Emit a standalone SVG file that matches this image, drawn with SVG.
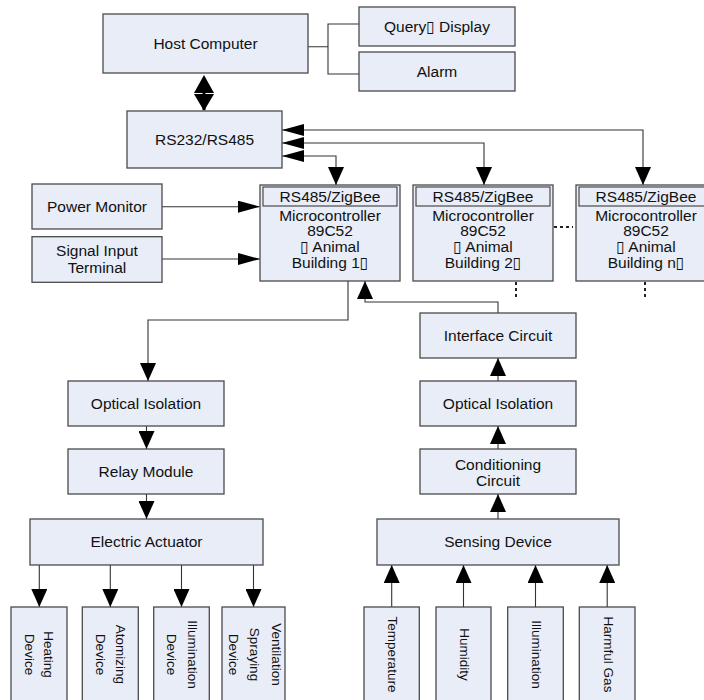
<svg xmlns="http://www.w3.org/2000/svg" width="704" height="700" viewBox="0 0 704 700">
<defs>
<style>
.box{fill:#E8EDF7;stroke:#4a4a4a;stroke-width:1.3}
.inner{fill:#E8EDF7;stroke:#4a4a4a;stroke-width:1.2}
.t{font-family:"Liberation Sans",Arial,"DejaVu Sans",sans-serif;font-size:15.5px;fill:#111;text-anchor:middle}
.tb{font-family:"Liberation Sans",Arial,"DejaVu Sans",sans-serif;font-size:15.5px;fill:#111;text-anchor:middle}
.tr{font-family:"Liberation Sans",Arial,"DejaVu Sans",sans-serif;font-size:13.5px;fill:#111;text-anchor:middle}
.ln{fill:none;stroke:#333;stroke-width:1.1}
.dot{fill:none;stroke:#222;stroke-width:2;stroke-dasharray:3 3}
</style>
<marker id="ah" markerUnits="userSpaceOnUse" markerWidth="22" markerHeight="12" refX="22" refY="6" orient="auto-start-reverse"><path d="M0,0 L22,6 L0,12 z" fill="#000"/></marker>
<marker id="av" markerUnits="userSpaceOnUse" markerWidth="18" markerHeight="16" refX="18" refY="8" orient="auto-start-reverse"><path d="M0,0 L18,8 L0,16 z" fill="#000"/></marker>
</defs>
<rect width="704" height="700" fill="#fff"/>

<g id="connectors">
<path class="ln" d="M308,46.7 H328 M359,24 H328 V74 H359"/>
<line x1="204" y1="80" x2="204" y2="110" stroke="#000" stroke-width="3"/>
<polygon points="204,75 214,93 194,93" fill="#000"/>
<polygon points="204,111 214,94 194,94" fill="#000"/>
<path class="ln" d="M282,130 H643 V185" marker-start="url(#ah)" marker-end="url(#av)"/>
<path class="ln" d="M282,143 H484 V185" marker-start="url(#ah)" marker-end="url(#av)"/>
<path class="ln" d="M282,156 H336 V185" marker-start="url(#ah)" marker-end="url(#av)"/>
<path class="ln" d="M162,206.7 H260" marker-end="url(#ah)"/>
<path class="ln" d="M162,259 H260" marker-end="url(#ah)"/>
<path class="dot" d="M554,227 H573"/>
<path class="dot" d="M516,282 V298"/>
<path class="dot" d="M645,282 V298"/>
<path class="ln" d="M348,281 V320 H148 V381" marker-end="url(#av)"/>
<path class="ln" d="M146.5,426 V449" marker-end="url(#av)"/>
<path class="ln" d="M146.5,494 V519" marker-end="url(#av)"/>
<path class="ln" d="M39.3,565 V607" marker-end="url(#av)"/>
<path class="ln" d="M110.3,565 V607" marker-end="url(#av)"/>
<path class="ln" d="M181.5,565 V607" marker-end="url(#av)"/>
<path class="ln" d="M253.5,565 V607" marker-end="url(#av)"/>
<path class="ln" d="M498,313 V302 H365 V281" marker-end="url(#av)"/>
<path class="ln" d="M498,381 V358" marker-end="url(#av)"/>
<path class="ln" d="M498,449 V426" marker-end="url(#av)"/>
<path class="ln" d="M498,519 V494" marker-end="url(#av)"/>
<path class="ln" d="M391.7,607 V565" marker-end="url(#av)"/>
<path class="ln" d="M463.5,607 V565" marker-end="url(#av)"/>
<path class="ln" d="M535.5,607 V565" marker-end="url(#av)"/>
<path class="ln" d="M607.2,607 V565" marker-end="url(#av)"/>
</g>

<g id="host"><rect class="box" x="103" y="14" width="205" height="59"/><text class="t" x="205.5" y="48.5">Host Computer</text></g>
<g id="query"><rect class="box" x="359" y="7" width="156" height="39"/><text class="t" x="437" y="31.5">Query▯ Display</text></g>
<g id="alarm"><rect class="box" x="359" y="52" width="156" height="39"/><text class="t" x="437" y="77">Alarm</text></g>
<g id="rs232"><rect class="box" x="127" y="111" width="155" height="57"/><text class="t" x="204.5" y="145">RS232/RS485</text></g>
<g id="power"><rect class="box" x="32" y="184" width="130" height="45"/><text class="t" x="97" y="212">Power Monitor</text></g>
<g id="signal"><rect class="box" x="32" y="236.7" width="130" height="45.6"/><text class="t" x="97" y="255.5">Signal Input</text><text class="t" x="97" y="272.5">Terminal</text></g>

<g id="building1"><rect class="box" x="260" y="185" width="140" height="96"/><rect class="inner" x="263" y="187" width="134" height="19"/>
<text class="tb" x="330" y="201.5">RS485/ZigBee</text><text class="tb" x="330" y="220.5">Microcontroller</text><text class="tb" x="330" y="236">89C52</text><text class="tb" x="330" y="252">▯ Animal</text><text class="tb" x="330" y="267.5">Building 1▯</text></g>
<g id="building2"><rect class="box" x="413" y="185" width="140" height="96"/><rect class="inner" x="416" y="187" width="134" height="19"/>
<text class="tb" x="483" y="201.5">RS485/ZigBee</text><text class="tb" x="483" y="220.5">Microcontroller</text><text class="tb" x="483" y="236">89C52</text><text class="tb" x="483" y="252">▯ Animal</text><text class="tb" x="483" y="267.5">Building 2▯</text></g>
<g id="buildingn"><rect class="box" x="576" y="185" width="140" height="96"/><rect class="inner" x="579" y="187" width="134" height="19"/>
<text class="tb" x="646" y="201.5">RS485/ZigBee</text><text class="tb" x="646" y="220.5">Microcontroller</text><text class="tb" x="646" y="236">89C52</text><text class="tb" x="646" y="252">▯ Animal</text><text class="tb" x="646" y="267.5">Building n▯</text></g>

<g id="optical-left"><rect class="box" x="68" y="381" width="156" height="45"/><text class="t" x="146" y="409">Optical Isolation</text></g>
<g id="relay"><rect class="box" x="68" y="449" width="156" height="45"/><text class="t" x="146" y="477">Relay Module</text></g>
<g id="actuator"><rect class="box" x="30" y="519" width="233" height="46"/><text class="t" x="146.5" y="547">Electric Actuator</text></g>

<g id="heating"><rect class="box" x="11" y="607" width="56" height="100"/><text class="tr" transform="translate(44,654.5) rotate(90)">Heating</text><text class="tr" transform="translate(24.5,654.5) rotate(90)">Device</text></g>
<g id="atomizing"><rect class="box" x="82.3" y="607" width="56" height="100"/><text class="tr" transform="translate(116,654.5) rotate(90)">Atomizing</text><text class="tr" transform="translate(95.5,654.5) rotate(90)">Device</text></g>
<g id="illum-device"><rect class="box" x="153.7" y="607" width="55.6" height="100"/><text class="tr" transform="translate(187.5,654.5) rotate(90)">Illumination</text><text class="tr" transform="translate(167,654.5) rotate(90)">Device</text></g>
<g id="ventilation"><rect class="box" x="222" y="607" width="63" height="100"/><text class="tr" transform="translate(272,654.5) rotate(90)">Ventilation</text><text class="tr" transform="translate(250,654.5) rotate(90)">Spraying</text><text class="tr" transform="translate(228.5,654.5) rotate(90)">Device</text></g>

<g id="interface"><rect class="box" x="420" y="313" width="156" height="45"/><text class="t" x="498" y="341">Interface Circuit</text></g>
<g id="optical-right"><rect class="box" x="420" y="381" width="156" height="45"/><text class="t" x="498" y="409">Optical Isolation</text></g>
<g id="conditioning"><rect class="box" x="420" y="449" width="156" height="45"/><text class="t" x="498" y="469.5">Conditioning</text><text class="t" x="498" y="485.5">Circuit</text></g>
<g id="sensing"><rect class="box" x="377" y="519" width="242" height="46"/><text class="t" x="498" y="547">Sensing Device</text></g>

<g id="temperature"><rect class="box" x="364" y="607" width="55.3" height="100"/><text class="tr" transform="translate(388.3,654.5) rotate(90)">Temperature</text></g>
<g id="humidity"><rect class="box" x="436" y="607" width="55" height="100"/><text class="tr" transform="translate(460.3,654.5) rotate(90)">Humidity</text></g>
<g id="illumination"><rect class="box" x="507.7" y="607" width="55.6" height="100"/><text class="tr" transform="translate(532,654.5) rotate(90)">Illumination</text></g>
<g id="gas"><rect class="box" x="579.3" y="607" width="55.7" height="100"/><text class="tr" transform="translate(603.7,654.5) rotate(90)">Harmful Gas</text></g>
</svg>
